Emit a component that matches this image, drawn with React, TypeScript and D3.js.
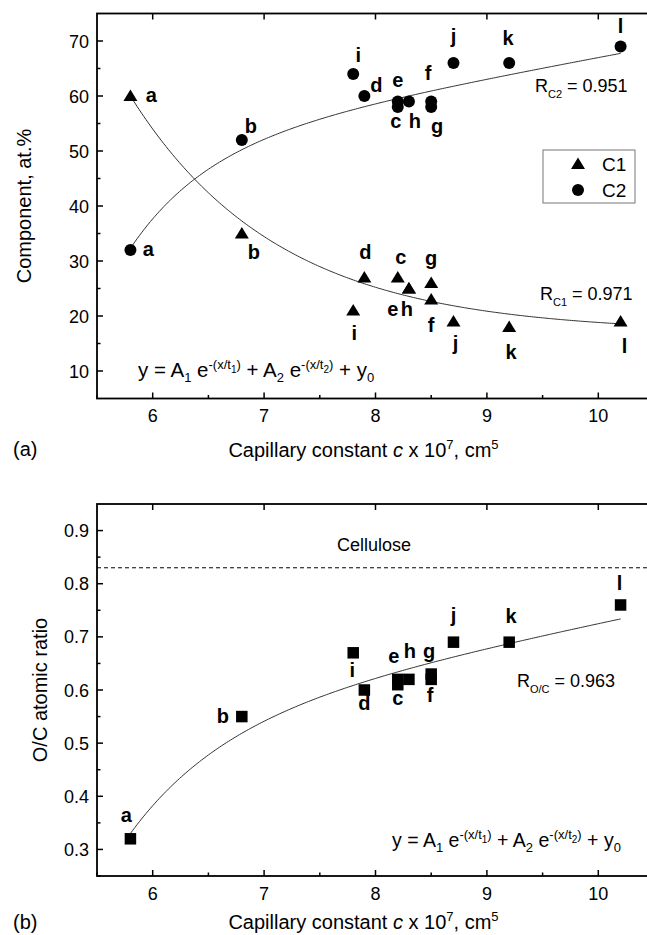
import React from "react";
import * as d3 from "d3";

// ---------- data ----------
const letters = ["a", "b", "c", "d", "e", "f", "g", "h", "i", "j", "k", "l"];
const c1X = [5.8, 6.8, 8.2, 7.9, 8.3, 8.5, 8.5, 8.3, 7.8, 8.7, 9.2, 10.2];
const c1Y = [60, 35, 27, 27, 25, 23, 26, 25, 21, 19, 18, 19];
const c2X = [5.8, 6.8, 8.2, 7.9, 8.2, 8.5, 8.5, 8.3, 7.8, 8.7, 9.2, 10.2];
const c2Y = [32, 52, 58, 60, 59, 59, 58, 59, 64, 66, 66, 69];
const ocX = [5.8, 6.8, 8.2, 7.9, 8.2, 8.5, 8.5, 8.3, 7.8, 8.7, 9.2, 10.2];
const ocY = [0.32, 0.55, 0.61, 0.6, 0.62, 0.62, 0.63, 0.62, 0.67, 0.69, 0.69, 0.76];

// label offsets (dx, dy of baseline-centre relative to the marker)
const c1Lab = [[21, 6], [12, 25], [3, -14], [1, -19], [-16, 27], [0, 32], [0, -18], [-2, 27], [1, 29], [2, 28], [2, 32], [4, 31]];
const c2Lab = [[18, 6], [9, -7], [-2, 21], [12, -4], [0, -15], [-3, -22], [6, 26], [6, 26], [5, -12], [0, -20], [-1, -18], [0, -14]];
const ocLab = [[-4, -17], [-19, 6], [0, 20], [0, 20], [-4, -16], [-1, 23], [-2, -16], [1, -21], [-1, 24], [0, -20], [2, -19], [-1, -15]];

// fit parameters: y = y0 + A1 e^{-(x-x0)/t1} + A2 e^{-(x-x0)/t2}
const fitC1 = { x0: 5.8, y0: 17, A1: 43, t1: 1.33, A2: 0, t2: 1 };
const fitC2 = { x0: 5.8, y0: 293.6, A1: -18.3, t1: 0.7, A2: -243, t2: 60 };
const fitOC = { x0: 5.8, y0: 3.337, A1: -0.207, t1: 0.86, A2: -2.8, t2: 60 };
const fitRange = [5.8, 10.2];

const xTicks = [6, 7, 8, 9, 10];
const yTicksTop = [10, 20, 30, 40, 50, 60, 70];
const yTicksBot = [0.3, 0.4, 0.5, 0.6, 0.7, 0.8, 0.9];
const cellulose = 0.83;

// ---------- layout ----------
const W = 647, H = 935;
const FONT = "'Liberation Sans', Arial, Helvetica, sans-serif";
const x = d3.scaleLinear().domain([5.5, 10.5]).range([97, 654]);
const yTop = d3.scaleLinear().domain([5, 75]).range([398.5, 13.5]);
const yBot = d3.scaleLinear().domain([0.25, 0.95]).range([876, 504]);

const fitFn = (p: any) => (v: number) =>
  p.y0 + p.A1 * Math.exp(-(v - p.x0) / p.t1) + p.A2 * Math.exp(-(v - p.x0) / p.t2);

function fitPath(p: any, ys: any) {
  const f = fitFn(p);
  const xs = d3.range(fitRange[0], fitRange[1] + 1e-9, 0.02);
  return d3.line<number>().x((v) => x(v)).y((v) => ys(f(v)))(xs) || "";
}

type Seg = { t: string; s: number; f: number; it?: boolean };
function Rich({ x0, y0, segs, anchor }: { x0: number; y0: number; segs: Seg[]; anchor?: string }) {
  let prev = 0;
  return (
    <text x={x0} y={y0} fontFamily={FONT} textAnchor={anchor || "start"} fill="#000">
      {segs.map((g, i) => {
        const dy = g.s - prev;
        prev = g.s;
        return (
          <tspan key={i} dy={dy} fontSize={g.f} fontStyle={g.it ? "italic" : "normal"}>
            {g.t}
          </tspan>
        );
      })}
    </text>
  );
}

const eqSegs = (F: number): Seg[] => {
  const S = 13, SS = 10;
  return [
    { t: "y = A", s: 0, f: F },
    { t: "1", s: 5, f: S },
    { t: " e", s: 0, f: F },
    { t: "-(x/t", s: -8, f: S },
    { t: "1", s: -4, f: SS },
    { t: ")", s: -8, f: S },
    { t: " + A", s: 0, f: F },
    { t: "2", s: 5, f: S },
    { t: " e", s: 0, f: F },
    { t: "-(x/t", s: -8, f: S },
    { t: "2", s: -4, f: SS },
    { t: ")", s: -8, f: S },
    { t: " + y", s: 0, f: F },
    { t: "0", s: 5, f: S },
  ];
};

const xLabelSegs: Seg[] = [
  { t: "Capillary constant ", s: 0, f: 20 },
  { t: "c", s: 0, f: 20, it: true },
  { t: " x 10", s: 0, f: 20 },
  { t: "7", s: -8, f: 13 },
  { t: ", cm", s: 0, f: 20 },
  { t: "5", s: -8, f: 13 },
];

const tri = "M0,-6.5 L7,5 L-7,5 Z";

function Frame({ ys, ticks, minor, top, bottom }: any) {
  const left = x(5.5), right = x(10.5);
  const minorX = d3.range(5.5, 10.51, 0.5).filter((v) => !xTicks.includes(v));
  return (
    <g stroke="#000" fill="none">
      <rect x={left} y={top} width={right - left} height={bottom - top} strokeWidth={1.8} />
      {xTicks.map((v) => (
        <g key={"x" + v}>
          <line x1={x(v)} x2={x(v)} y1={bottom} y2={bottom - 6} strokeWidth={1.5} />
          <line x1={x(v)} x2={x(v)} y1={top} y2={top + 6} strokeWidth={1.5} />
        </g>
      ))}
      {minorX.map((v) => (
        <line key={"mx" + v} x1={x(v)} x2={x(v)} y1={bottom} y2={bottom - 3.5} strokeWidth={1.5} />
      ))}
      {ticks.map((v: number) => (
        <g key={"y" + v}>
          <line x1={left} x2={left + 6} y1={ys(v)} y2={ys(v)} strokeWidth={1.5} />
          <line x1={right} x2={right - 6} y1={ys(v)} y2={ys(v)} strokeWidth={1.5} />
        </g>
      ))}
      {minor.map((v: number) => (
        <line key={"my" + v} x1={left} x2={left + 3.5} y1={ys(v)} y2={ys(v)} strokeWidth={1.5} />
      ))}
    </g>
  );
}

function TickLabels({ ys, ticks, fmt, bottom }: any) {
  return (
    <g fontFamily={FONT} fontSize={18} fill="#000">
      {xTicks.map((v) => (
        <text key={"xl" + v} x={x(v)} y={bottom + 23.5} textAnchor="middle">
          {v}
        </text>
      ))}
      {ticks.map((v: number) => (
        <text key={"yl" + v} x={89} y={ys(v) + 6.5} textAnchor="end">
          {fmt(v)}
        </text>
      ))}
    </g>
  );
}

function PointLabels({ xs, vals, ys, offs }: any) {
  return (
    <g fontFamily={FONT} fontSize={20} fontWeight="bold" fill="#000" textAnchor="middle">
      {letters.map((l, i) => (
        <text key={l} x={x(xs[i]) + offs[i][0]} y={ys(vals[i]) + offs[i][1]}>
          {l}
        </text>
      ))}
    </g>
  );
}

export default function App() {
  const minorTop = d3.range(15, 75, 10);
  const minorBot = [0.25, 0.35, 0.45, 0.55, 0.65, 0.75, 0.85];
  return (
    <svg
      width={W}
      height={H}
      viewBox={`0 0 ${W} ${H}`}
      style={{ position: "absolute", left: 0, top: 0, background: "#fff" }}
    >
      <rect x={0} y={0} width={W} height={H} fill="#fff" />

      {/* ---------- panel (a) ---------- */}
      <Frame ys={yTop} ticks={yTicksTop} minor={minorTop} top={yTop(75)} bottom={yTop(5)} />
      <TickLabels ys={yTop} ticks={yTicksTop} fmt={(v: number) => String(v)} bottom={yTop(5)} />
      <path d={fitPath(fitC1, yTop)} fill="none" stroke="#333" strokeWidth={1} />
      <path d={fitPath(fitC2, yTop)} fill="none" stroke="#333" strokeWidth={1} />
      {c1X.map((v, i) => (
        <path key={"t" + i} d={tri} transform={`translate(${x(v)},${yTop(c1Y[i])})`} fill="#000" />
      ))}
      {c2X.map((v, i) => (
        <circle key={"c" + i} cx={x(v)} cy={yTop(c2Y[i])} r={6} fill="#000" />
      ))}
      <PointLabels xs={c1X} vals={c1Y} ys={yTop} offs={c1Lab} />
      <PointLabels xs={c2X} vals={c2Y} ys={yTop} offs={c2Lab} />

      <Rich x0={535} y0={92} segs={[
        { t: "R", s: 0, f: 18 },
        { t: "C2", s: 6, f: 11 },
        { t: " = 0.951", s: 0, f: 18 },
      ]} />
      <Rich x0={540} y0={300} segs={[
        { t: "R", s: 0, f: 18 },
        { t: "C1", s: 6, f: 11 },
        { t: " = 0.971", s: 0, f: 18 },
      ]} />

      {/* legend */}
      <rect x={543} y={150} width={92} height={53} fill="#fff" stroke="#777" strokeWidth={1} />
      <path d={tri} transform="translate(578,164)" fill="#000" />
      <circle cx={578} cy={190} r={6} fill="#000" />
      <text x={602} y={171} fontFamily={FONT} fontSize={19}>C1</text>
      <text x={602} y={197} fontFamily={FONT} fontSize={19}>C2</text>

      <Rich x0={138} y0={377} segs={eqSegs(20.5)} />

      <text transform={`translate(31,${(yTop(75) + yTop(5)) / 2}) rotate(-90)`} textAnchor="middle"
        fontFamily={FONT} fontSize={20}>Component, at.%</text>
      <Rich x0={(97 + 654) / 2 - 12} y0={457} segs={xLabelSegs} anchor="middle" />
      <text x={13} y={456} fontFamily={FONT} fontSize={20}>(a)</text>

      {/* ---------- panel (b) ---------- */}
      <Frame ys={yBot} ticks={yTicksBot} minor={minorBot} top={yBot(0.95)} bottom={yBot(0.25)} />
      <TickLabels ys={yBot} ticks={yTicksBot} fmt={(v: number) => v.toFixed(1)} bottom={yBot(0.25)} />
      <line x1={x(5.5)} x2={x(10.5)} y1={yBot(cellulose)} y2={yBot(cellulose)} stroke="#000"
        strokeWidth={1} strokeDasharray="4,3" />
      <text x={337} y={551} fontFamily={FONT} fontSize={18}>Cellulose</text>
      <path d={fitPath(fitOC, yBot)} fill="none" stroke="#333" strokeWidth={1} />
      {ocX.map((v, i) => (
        <rect key={"s" + i} x={x(v) - 5.75} y={yBot(ocY[i]) - 5.75} width={11.5} height={11.5} fill="#000" />
      ))}
      <PointLabels xs={ocX} vals={ocY} ys={yBot} offs={ocLab} />
      <Rich x0={517} y0={687} segs={[
        { t: "R", s: 0, f: 18 },
        { t: "O/C", s: 6, f: 11 },
        { t: " = 0.963", s: 0, f: 18 },
      ]} />
      <Rich x0={392} y0={847} segs={eqSegs(19.5)} />

      <text transform={`translate(47,${(yBot(0.95) + yBot(0.25)) / 2}) rotate(-90)`} textAnchor="middle"
        fontFamily={FONT} fontSize={20}>O/C atomic ratio</text>
      <Rich x0={(97 + 654) / 2 - 12} y0={929} segs={xLabelSegs} anchor="middle" />
      <text x={13} y={929} fontFamily={FONT} fontSize={20}>(b)</text>
    </svg>
  );
}
